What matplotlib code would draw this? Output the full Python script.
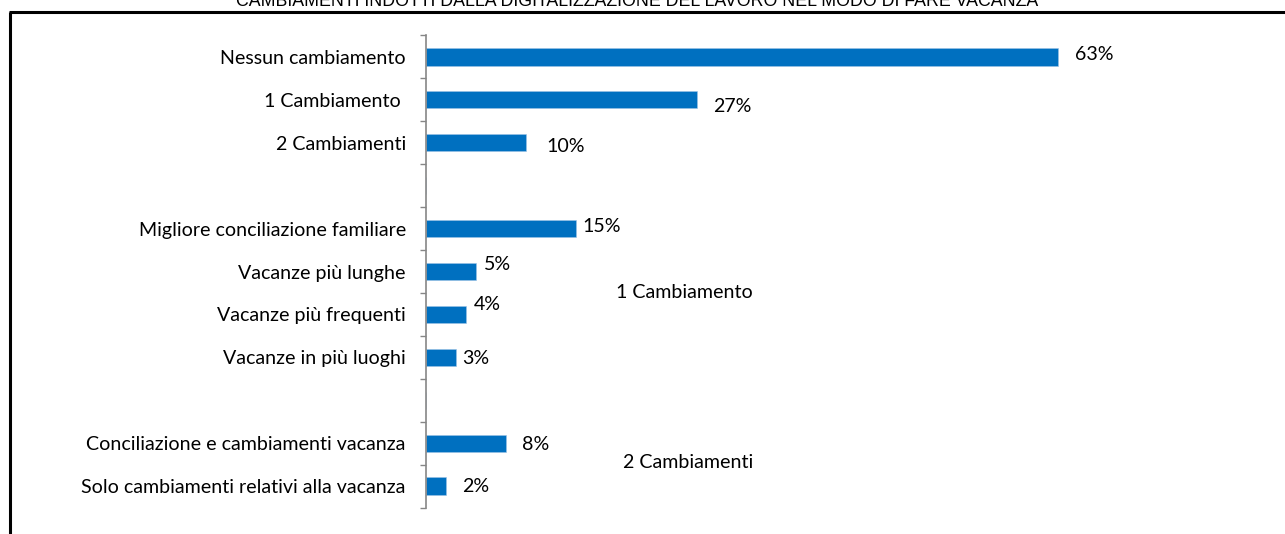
import numpy as np
import matplotlib.pyplot as plt
from matplotlib.lines import Line2D

plt.rcParams['font.family'] = ['Lato', 'DejaVu Sans']

# categories top to bottom, blanks separate the groups
categories = ['Nessun cambiamento', '1 Cambiamento ', '2 Cambiamenti', '',
              'Migliore conciliazione familiare', 'Vacanze più lunghe',
              'Vacanze più frequenti', 'Vacanze in più luoghi', '',
              'Conciliazione e cambiamenti vacanza',
              'Solo cambiamenti relativi alla vacanza']
values = [63, 27, 10, None, 15, 5, 4, 3, None, 8, 2]
group_labels = ['1 Cambiamento', '2 Cambiamenti']
title = 'CAMBIAMENTI INDOTTI DALLA DIGITALIZZAZIONE DEL LAVORO NEL MODO DI FARE VACANZA'

# label nudges in pixels (dx, dy down) like the hand-placed excel labels
label_nudge = [(17, 2), (16, -7), (20, -4), None, (6, 2), (8, 7), (8, 10),
               (6, -1), None, (16, -1), (16, 0)]

FS = 14.1

W, H = 1285, 534
fig = plt.figure(figsize=(W / 100, H / 100), dpi=100)

# axes placed in pixel terms
ax_l, ax_r = 426, 1126
ax_top, ax_bot = 35.5, 507.5
ax = fig.add_axes([ax_l / W, 1 - ax_bot / H, (ax_r - ax_l) / W, (ax_bot - ax_top) / H])

ypos = np.arange(len(categories))
bar_vals = [v if v is not None else 0 for v in values]
ax.barh(ypos, bar_vals, height=0.4, color='#0070C0', edgecolor='#9DC3E6', linewidth=0.4)

ax.set_xlim(0, 69.8)
ax.set_ylim(len(categories) - 0.5, -0.5)

# tick marks sit on category boundaries, labels on the centres
ax.set_yticks(np.arange(len(categories) + 1) - 0.5)
ax.set_yticklabels([])
ax.set_yticks(ypos, minor=True)
ax.set_yticklabels(categories, minor=True, fontsize=FS, color='#000000')
ax.tick_params(axis='y', which='major', length=4.5, width=1.0, color='#868686', direction='out')
ax.tick_params(axis='y', which='minor', length=0, pad=14.5)
ax.set_xticks([])

for s in ['top', 'right', 'bottom']:
    ax.spines[s].set_visible(False)
ax.spines['left'].set_color('#868686')
ax.spines['left'].set_linewidth(1.2)

for y, v, nd in zip(ypos, values, label_nudge):
    if v is None:
        continue
    ax.annotate(f'{v}%', xy=(v, y), xytext=(nd[0] * 0.72, nd[1] * 0.72),
                textcoords='offset points', ha='left', va='center', fontsize=FS)

ax.text(18.9, 5.5, group_labels[0], ha='left', va='center', fontsize=FS)
ax.text(19.6, 9.45, group_labels[1], ha='left', va='center', fontsize=FS)

# title, partly above the top edge
fig.text(637 / W, 1 - 6 / H, title, ha='center', va='baseline',
         fontsize=12.8, family='Liberation Sans')

# black frame on the left and top
fig.add_artist(Line2D([10 / W, 10 / W], [0, 1 - 12 / H], color='black', linewidth=2.2,
                      transform=fig.transFigure, solid_capstyle='butt'))
fig.add_artist(Line2D([9 / W, 1], [1 - 12 / H, 1 - 12 / H], color='black', linewidth=2.2,
                      transform=fig.transFigure, solid_capstyle='butt'))

fig.savefig('out.png', dpi=100)
